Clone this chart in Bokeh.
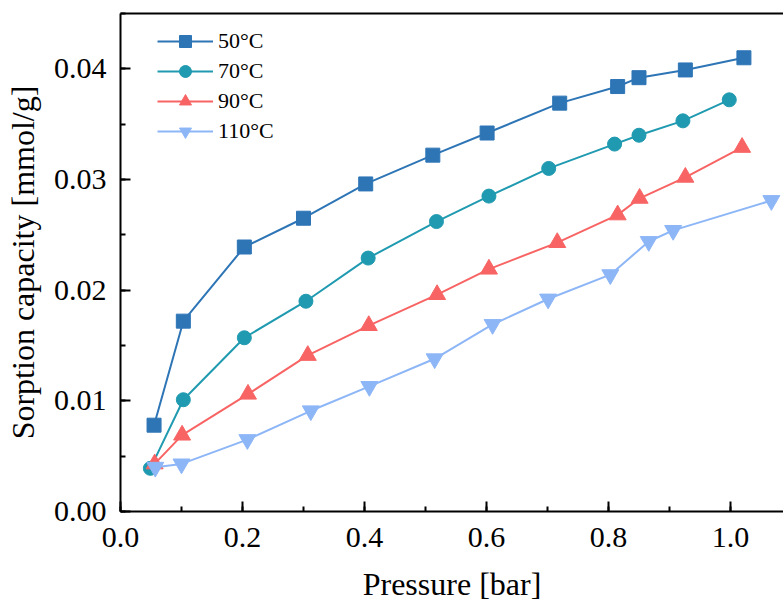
from bokeh.plotting import figure
from bokeh.models import (Range1d, SingleIntervalTicker, NumeralTickFormatter,
                          LinearAxis, FixedTicker, Legend)
from bokeh.embed import file_html
from bokeh.resources import INLINE

# ---- data ----
p50 = [0.055, 0.103, 0.203, 0.300, 0.402, 0.512, 0.601, 0.720, 0.815, 0.850, 0.926, 1.022]
c50 = [0.0078, 0.0172, 0.0239, 0.0265, 0.0296, 0.0322, 0.0342, 0.0369, 0.0384, 0.0392, 0.0399, 0.0410]

p70 = [0.049, 0.103, 0.203, 0.304, 0.406, 0.518, 0.604, 0.702, 0.810, 0.850, 0.922, 0.998]
c70 = [0.0039, 0.0101, 0.0157, 0.0190, 0.0229, 0.0262, 0.0285, 0.0310, 0.0332, 0.0340, 0.0353, 0.0372]

p90 = [0.056, 0.101, 0.209, 0.307, 0.407, 0.519, 0.604, 0.716, 0.815, 0.851, 0.926, 1.019]
c90 = [0.0043, 0.0069, 0.0106, 0.0141, 0.0168, 0.0196, 0.0219, 0.0243, 0.0268, 0.0283, 0.0302, 0.0329]

p110 = [0.057, 0.100, 0.208, 0.312, 0.408, 0.515, 0.610, 0.701, 0.803, 0.866, 0.906, 1.067]
c110 = [0.0040, 0.0043, 0.0065, 0.0091, 0.0113, 0.0138, 0.0169, 0.0192, 0.0214, 0.0244, 0.0254, 0.0281]

labels = ["50°C", "70°C", "90°C", "110°C"]
colors = ["#2E75B6", "#209AB0", "#F86464", "#8DB6F7"]
markers = ["square", "circle", "triangle", "inverted_triangle"]
msizes = [14, 14, 17, 17]

x_label = "Pressure [bar]"
y_label = "Sorption capacity [mmol/g]"

SERIF = "Liberation Serif"

p = figure(width=783, height=614, output_backend="svg", toolbar_location=None,
           x_range=Range1d(0, 1.0869), y_range=Range1d(0, 0.045),
           min_border_left=120, min_border_right=0, min_border_top=13,
           min_border_bottom=103)
p.background_fill_color = "white"
p.border_fill_color = "white"
p.outline_line_color = None
p.grid.visible = False

renderers = []
for xs, ys, lab, col, mk, ms in zip([p50, p70, p90, p110], [c50, c70, c90, c110],
                                   labels, colors, markers, msizes):
    l = p.line(xs, ys, line_color=col, line_width=2)
    s = p.scatter(xs, ys, marker=mk, size=ms, fill_color=col, line_color=col)
    renderers.append((lab, [l, s]))

legend = Legend(items=renderers, location=(37, 365))
legend.glyph_width = 56
legend.glyph_height = 30
legend.label_height = 30
legend.spacing = 0
legend.padding = 0
legend.margin = 0
legend.label_standoff = 5
legend.label_text_font = SERIF
legend.label_text_font_size = "22px"
legend.label_text_color = "black"
legend.border_line_color = None
legend.background_fill_alpha = 0
p.add_layout(legend)

xa = p.below[0]
ya = p.left[0]
xa.ticker = SingleIntervalTicker(interval=0.2, num_minor_ticks=2)
xa.formatter = NumeralTickFormatter(format="0.0")
ya.ticker = SingleIntervalTicker(interval=0.01, num_minor_ticks=2)
ya.formatter = NumeralTickFormatter(format="0.00")

for ax in (xa, ya):
    ax.axis_line_width = 2
    ax.axis_line_color = "black"
    ax.major_tick_in = 10
    ax.major_tick_out = 0
    ax.minor_tick_in = 5
    ax.minor_tick_out = 0
    ax.major_tick_line_width = 2
    ax.minor_tick_line_width = 2
    ax.major_tick_line_color = "black"
    ax.minor_tick_line_color = "black"
    ax.major_label_text_font = SERIF
    ax.major_label_text_font_size = "30px"
    ax.major_label_text_color = "black"
    ax.axis_label_text_font = SERIF
    ax.axis_label_text_font_size = "32px"
    ax.axis_label_text_font_style = "normal"
    ax.axis_label_text_color = "black"

xa.axis_label = x_label
ya.axis_label = y_label
xa.major_label_standoff = 16
xa.axis_label_standoff = 16
ya.major_label_standoff = 14
ya.axis_label_standoff = 10

# top spine (no ticks, no labels)
top = LinearAxis(ticker=FixedTicker(ticks=[]), major_label_text_font_size="0px",
                 major_tick_out=0, major_tick_in=0, minor_tick_out=0, minor_tick_in=0,
                 axis_line_width=2, axis_line_color="black",
                 major_label_standoff=0, axis_label_standoff=0)
p.add_layout(top, "above")

open("out.html", "w").write(file_html(p, INLINE))
